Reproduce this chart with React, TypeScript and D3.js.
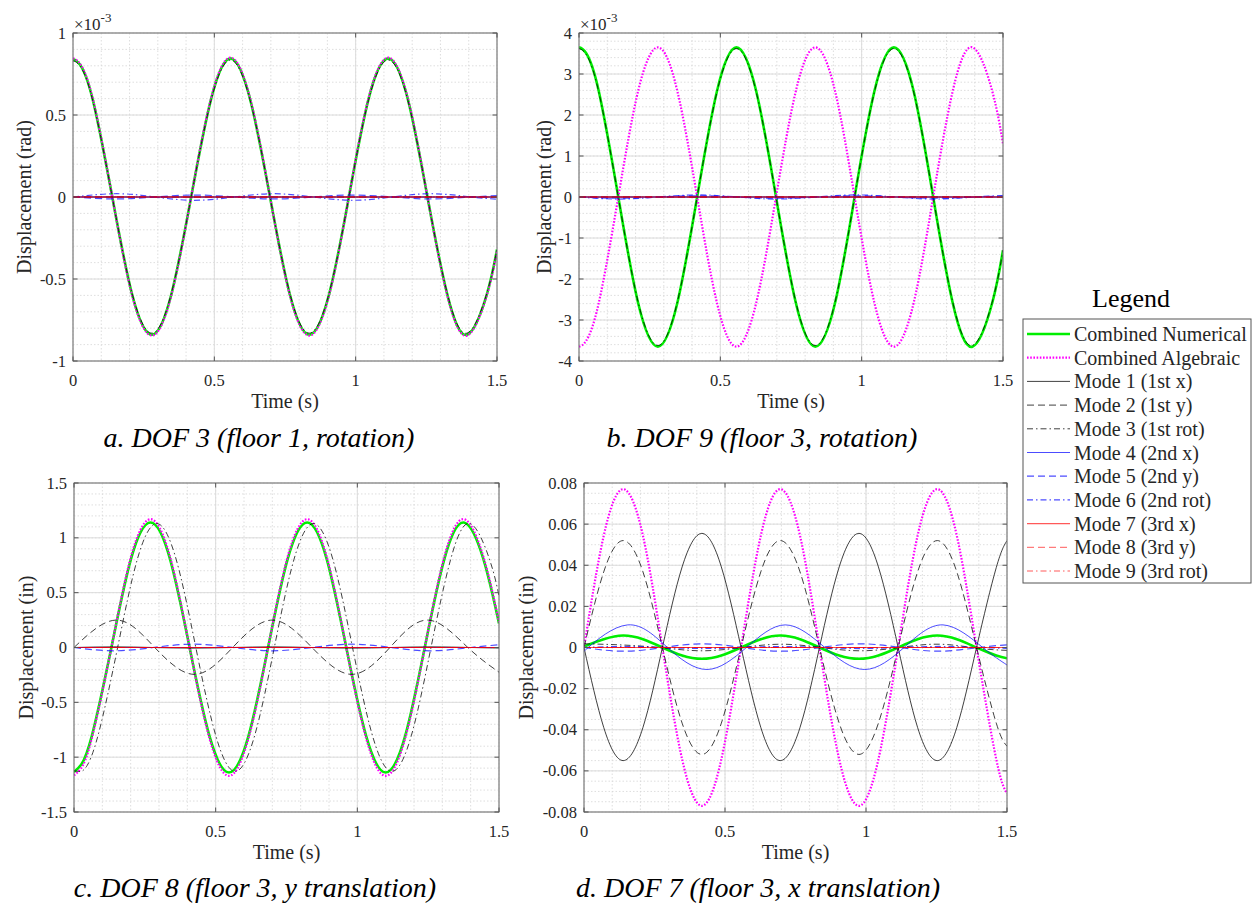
import React from 'react';
import * as d3 from 'd3';

type Pt = [number, number];

// ---------- shared ----------
const timeTicks = [0, 0.5, 1, 1.5];
const legendLabels = [
  'Combined Numerical',
  'Combined Algebraic',
  'Mode 1 (1st x)',
  'Mode 2 (1st y)',
  'Mode 3 (1st rot)',
  'Mode 4 (2nd x)',
  'Mode 5 (2nd y)',
  'Mode 6 (2nd rot)',
  'Mode 7 (3rd x)',
  'Mode 8 (3rd y)',
  'Mode 9 (3rd rot)',
];
const flatTime = [0, 1.5];
const flatValues = [0, 0];

// ---------- panel a: DOF 3 (x 10^-3 rad) ----------
const aTicks = [-1, -0.5, 0, 0.5, 1];
const aTime = [0, 0.025, 0.07, 0.139, 0.209, 0.279, 0.348, 0.418, 0.488, 0.557, 0.627, 0.697, 0.767, 0.836, 0.906, 0.976, 1.045, 1.115, 1.185, 1.254, 1.324, 1.394, 1.464, 1.5];
const aNumerical = [0.84, 0.807, 0.594, 0, -0.594, -0.84, -0.594, 0, 0.594, 0.845, 0.594, 0, -0.594, -0.84, -0.594, 0, 0.594, 0.845, 0.594, 0, -0.594, -0.84, -0.594, -0.32];
const aAlgebraic = [0.845, 0.812, 0.598, 0, -0.598, -0.845, -0.598, 0, 0.598, 0.85, 0.598, 0, -0.598, -0.845, -0.598, 0, 0.598, 0.85, 0.598, 0, -0.598, -0.845, -0.598, -0.325];
const aMode3 = [0.83, 0.798, 0.587, 0, -0.587, -0.83, -0.587, 0, 0.587, 0.835, 0.587, 0, -0.587, -0.83, -0.587, 0, 0.587, 0.835, 0.587, 0, -0.587, -0.83, -0.587, -0.315];
const aSmallTime = [0, 0.155, 0.29, 0.43, 0.57, 0.71, 0.85, 0.99, 1.13, 1.27, 1.41, 1.5];
const aMode5 = [0, -0.012, 0, 0.012, 0, -0.012, 0, 0.012, 0, -0.012, 0, 0.008];
const aMode6 = [0, 0.02, 0, -0.02, 0, 0.02, 0, -0.02, 0, 0.02, 0, -0.014];

// ---------- panel b: DOF 9 (x 10^-3 rad) ----------
const bTicks = [-4, -3, -2, -1, 0, 1, 2, 3, 4];
const bTime = [0, 0.025, 0.07, 0.139, 0.209, 0.279, 0.348, 0.418, 0.488, 0.557, 0.627, 0.697, 0.767, 0.836, 0.906, 0.975, 1.045, 1.114, 1.184, 1.253, 1.322, 1.392, 1.462, 1.5];
const bNumerical = [3.65, 3.51, 2.58, 0, -2.58, -3.65, -2.58, 0, 2.58, 3.65, 2.58, 0, -2.58, -3.65, -2.58, 0, 2.58, 3.65, 2.58, 0, -2.58, -3.65, -2.58, -1.3];
const bAlgebraic = [-3.65, -3.51, -2.58, 0, 2.58, 3.65, 2.58, 0, -2.58, -3.65, -2.58, 0, 2.58, 3.65, 2.58, 0, -2.58, -3.65, -2.58, 0, 2.58, 3.65, 2.58, 1.3];
const bMode3 = [3.62, 3.48, 2.56, 0, -2.56, -3.62, -2.56, 0, 2.56, 3.62, 2.56, 0, -2.56, -3.62, -2.56, 0, 2.56, 3.62, 2.56, 0, -2.56, -3.62, -2.56, -1.29];
const bSmallTime = [0, 0.14, 0.28, 0.42, 0.56, 0.7, 0.84, 0.98, 1.12, 1.26, 1.4, 1.5];
const bMode5 = [0, -0.03, 0, 0.03, 0, -0.03, 0, 0.03, 0, -0.03, 0, 0.022];
const bMode6 = [0, -0.05, 0, 0.05, 0, -0.05, 0, 0.05, 0, -0.05, 0, 0.036];

// ---------- panel c: DOF 8 (in) ----------
const cTicks = [-1.5, -1, -0.5, 0, 0.5, 1, 1.5];
const cTime = [0, 0.025, 0.063, 0.132, 0.201, 0.27, 0.339, 0.408, 0.478, 0.547, 0.616, 0.685, 0.754, 0.823, 0.892, 0.961, 1.031, 1.1, 1.169, 1.238, 1.307, 1.376, 1.445, 1.5];
const cNumerical = [-1.135, -1.07, -0.806, 0, 0.806, 1.14, 0.806, 0, -0.806, -1.14, -0.806, 0, 0.806, 1.14, 0.806, 0, -0.806, -1.14, -0.806, 0, 0.806, 1.14, 0.806, 0.22];
const cAlgebraic = [-1.165, -1.1, -0.827, 0, 0.827, 1.17, 0.827, 0, -0.827, -1.17, -0.827, 0, 0.827, 1.17, 0.827, 0, -0.827, -1.17, -0.827, 0, 0.827, 1.17, 0.827, 0.23];
const cMode3Time = [0, 0.016, 0.04, 0.085, 0.154, 0.223, 0.292, 0.361, 0.43, 0.5, 0.569, 0.638, 0.707, 0.776, 0.845, 0.914, 0.983, 1.053, 1.122, 1.191, 1.26, 1.329, 1.398, 1.467, 1.5];
const cMode3 = [-1.125, -1.13, -1.1, -0.8, 0, 0.8, 1.13, 0.8, 0, -0.8, -1.13, -0.8, 0, 0.8, 1.13, 0.8, 0, -0.8, -1.13, -0.8, 0, 0.8, 1.13, 0.8, 0.47];
const cMode2Time = [0, 0.15, 0.285, 0.425, 0.56, 0.7, 0.84, 0.98, 1.115, 1.25, 1.39, 1.5];
const cMode2 = [0, 0.25, 0, -0.245, 0, 0.25, 0, -0.245, 0, 0.25, 0, -0.225];
const cSmallTime = [0, 0.14, 0.28, 0.42, 0.56, 0.7, 0.84, 0.98, 1.12, 1.26, 1.4, 1.5];
const cMode1 = [0, 0.006, 0, -0.006, 0, 0.006, 0, -0.006, 0, 0.006, 0, -0.005];
const cMode5 = [0, -0.03, 0, 0.03, 0, -0.03, 0, 0.03, 0, -0.03, 0, 0.025];

// ---------- panel d: DOF 7 (in) ----------
const dTicks = [-0.08, -0.06, -0.04, -0.02, 0, 0.02, 0.04, 0.06, 0.08];
const dTime = [0, 0.07, 0.139, 0.209, 0.278, 0.348, 0.418, 0.487, 0.557, 0.627, 0.696, 0.766, 0.835, 0.905, 0.975, 1.044, 1.114, 1.183, 1.253, 1.322, 1.392, 1.462, 1.5];
const dNumerical = [0.0005, 0.004, 0.0058, 0.004, 0, -0.0039, -0.0055, -0.0039, 0, 0.004, 0.0058, 0.004, 0, -0.0039, -0.0055, -0.0039, 0, 0.004, 0.0058, 0.004, 0, -0.0039, -0.0052];
const dAlgebraic = [0, 0.0544, 0.077, 0.0544, 0, -0.0544, -0.077, -0.0544, 0, 0.0544, 0.077, 0.0544, 0, -0.0544, -0.077, -0.0544, 0, 0.0544, 0.077, 0.0544, 0, -0.0544, -0.071];
const dMode1 = [0, -0.0389, -0.055, -0.0389, 0, 0.0392, 0.0555, 0.0392, 0, -0.0389, -0.055, -0.0389, 0, 0.0392, 0.0555, 0.0392, 0, -0.0389, -0.055, -0.0389, 0, 0.0389, 0.052];
const dMode2 = [0, 0.0368, 0.052, 0.0368, 0, -0.0368, -0.052, -0.0368, 0, 0.0368, 0.052, 0.0368, 0, -0.0368, -0.052, -0.0368, 0, 0.0368, 0.052, 0.0368, 0, -0.0368, -0.048];
const dMode4Time = [0, 0.015, 0.155, 0.296, 0.436, 0.576, 0.714, 0.854, 0.995, 1.135, 1.273, 1.414, 1.5];
const dMode4 = [-0.0022, 0, 0.011, 0, -0.0107, 0, 0.011, 0, -0.0107, 0, 0.011, 0, -0.0085];
const dSmallTime = [0, 0.14, 0.28, 0.42, 0.56, 0.7, 0.84, 0.98, 1.12, 1.26, 1.4, 1.5];
const dMode3 = [0.0018, 0.0012, -0.0002, -0.0016, 0, 0.0016, 0, -0.0016, 0, 0.0016, -0.0004, -0.0014];
const dMode5 = [0, -0.0018, 0, 0.0018, 0, -0.0018, 0, 0.0018, 0, -0.0018, 0, 0.0013];
const dMode6 = [0, 0.0005, 0, -0.0005, 0, 0.0005, 0, -0.0005, 0, 0.0005, 0, -0.0004];

// ---------- styles ----------
type Style = { color: string; width: number; dash?: string; opacity: number };
const seriesStyles: Style[] = [
  { color: '#00ee00', width: 2.6, opacity: 1 },
  { color: '#ff00ff', width: 2.2, dash: '1.6,1.6', opacity: 1 },
  { color: '#000000', width: 1, opacity: 0.75 },
  { color: '#000000', width: 1, dash: '7,4', opacity: 0.75 },
  { color: '#000000', width: 1, dash: '6,3,1.5,3', opacity: 0.75 },
  { color: '#0000ff', width: 1, opacity: 0.7 },
  { color: '#0000ff', width: 1.2, dash: '7,4', opacity: 0.7 },
  { color: '#0000ff', width: 1.2, dash: '6,3,1.5,3', opacity: 0.7 },
  { color: '#ff0000', width: 1.2, opacity: 0.65 },
  { color: '#ff0000', width: 1, dash: '7,4', opacity: 0.65 },
  { color: '#ff0000', width: 1, dash: '6,3,1.5,3', opacity: 0.65 },
];

const FONT = '"Liberation Serif", "Times New Roman", serif';
const TXT = '#262626';

type Box = { l: number; r: number; t: number; b: number };

function zip(t: number[], v: number[]): Pt[] {
  return t.map((ti, i) => [ti, v[i]] as Pt);
}

function fmt(v: number) {
  const r = Math.round(v * 10000) / 10000;
  return String(r === 0 ? 0 : r);
}

function Panel(props: {
  id: string;
  box: Box;
  yTicks: number[];
  yMinor: number;
  yLabel: string;
  yLabelX: number;
  exponent?: boolean;
  series: Pt[][];
  caption: string;
  captionX: number;
  captionY: number;
}) {
  const { id, box, yTicks, yMinor, yLabel, yLabelX, exponent, series, caption, captionX, captionY } = props;
  const yDom: [number, number] = [yTicks[0], yTicks[yTicks.length - 1]];
  const x = d3.scaleLinear().domain([0, 1.5]).range([box.l, box.r]);
  const y = d3.scaleLinear().domain(yDom).range([box.b, box.t]);
  const xMinor = d3.range(0, 1.5 + 1e-9, 0.1);
  const n = Math.round((yDom[1] - yDom[0]) / yMinor);
  const yMinorTicks = d3.range(0, n + 1).map((i) => yDom[0] + i * yMinor);
  const line = d3
    .line<Pt>()
    .x((d) => x(d[0]))
    .y((d) => y(d[1]))
    .curve(d3.curveNatural);
  const tickLen = 4.5;
  return (
    <g>
      <defs>
        <clipPath id={`clip-${id}`}>
          <rect x={box.l} y={box.t} width={box.r - box.l} height={box.b - box.t} />
        </clipPath>
      </defs>
      <rect x={box.l} y={box.t} width={box.r - box.l} height={box.b - box.t} fill="#fff" />
      {xMinor.map((v, i) => (
        <line key={`xm${i}`} x1={x(v)} x2={x(v)} y1={box.t} y2={box.b} stroke="#d6d6d6" strokeWidth={0.8} strokeDasharray="1.5,2" />
      ))}
      {yMinorTicks.map((v, i) => (
        <line key={`ym${i}`} x1={box.l} x2={box.r} y1={y(v)} y2={y(v)} stroke="#d6d6d6" strokeWidth={0.8} strokeDasharray="1.5,2" />
      ))}
      {timeTicks.map((v, i) => (
        <line key={`xg${i}`} x1={x(v)} x2={x(v)} y1={box.t} y2={box.b} stroke="#dcdcdc" strokeWidth={1} />
      ))}
      {yTicks.map((v, i) => (
        <line key={`yg${i}`} x1={box.l} x2={box.r} y1={y(v)} y2={y(v)} stroke="#dcdcdc" strokeWidth={1} />
      ))}
      <g clipPath={`url(#clip-${id})`}>
        {series.map((s, i) => {
          const st = seriesStyles[i];
          return (
            <path
              key={`s${i}`}
              d={line(s) || ''}
              fill="none"
              stroke={st.color}
              strokeWidth={st.width}
              strokeDasharray={st.dash}
              strokeOpacity={st.opacity}
            />
          );
        })}
      </g>
      <rect x={box.l} y={box.t} width={box.r - box.l} height={box.b - box.t} fill="none" stroke="#6e6e6e" strokeWidth={1} />
      {timeTicks.map((v, i) => (
        <g key={`xt${i}`}>
          <line x1={x(v)} x2={x(v)} y1={box.b} y2={box.b - tickLen} stroke="#555" />
          <line x1={x(v)} x2={x(v)} y1={box.t} y2={box.t + tickLen} stroke="#555" />
          <text x={x(v)} y={box.b + 25} textAnchor="middle" fontFamily={FONT} fontSize={16.5} fill={TXT}>
            {fmt(v)}
          </text>
        </g>
      ))}
      {yTicks.map((v, i) => (
        <g key={`yt${i}`}>
          <line x1={box.l} x2={box.l + tickLen} y1={y(v)} y2={y(v)} stroke="#555" />
          <line x1={box.r} x2={box.r - tickLen} y1={y(v)} y2={y(v)} stroke="#555" />
          <text x={box.l - 7} y={y(v) + 5.5} textAnchor="end" fontFamily={FONT} fontSize={16.5} fill={TXT}>
            {fmt(v)}
          </text>
        </g>
      ))}
      {exponent && (
        <text x={box.l + 1} y={box.t - 3} fontFamily={FONT} fontSize={17} fill={TXT}>
          ×10
          <tspan dy={-8} fontSize={13}>
            -3
          </tspan>
        </text>
      )}
      <text x={(box.l + box.r) / 2} y={box.b + 47} textAnchor="middle" fontFamily={FONT} fontSize={20} fill={TXT}>
        Time (s)
      </text>
      <text
        transform={`translate(${yLabelX},${(box.t + box.b) / 2}) rotate(-90)`}
        textAnchor="middle"
        fontFamily={FONT}
        fontSize={20}
        fill={TXT}
      >
        {yLabel}
      </text>
      <text x={captionX} y={captionY} textAnchor="middle" fontFamily={FONT} fontStyle="italic" fontSize={28} fill="#000">
        {caption}
      </text>
    </g>
  );
}

function Legend() {
  const left = 1023;
  const top = 319;
  const w = 228;
  const h = 264;
  const firstBase = 341;
  const step = 23.7;
  return (
    <g>
      <text x={1131} y={307} textAnchor="middle" fontFamily={FONT} fontSize={26} fill="#000">
        Legend
      </text>
      <rect x={left} y={top} width={w} height={h} fill="#fff" stroke="#555" strokeWidth={1} />
      {legendLabels.map((lab, i) => {
        const st = seriesStyles[i];
        const by = firstBase + i * step;
        return (
          <g key={lab}>
            <line
              x1={1027}
              x2={1070}
              y1={by - 7}
              y2={by - 7}
              stroke={st.color}
              strokeWidth={st.width}
              strokeDasharray={st.dash}
              strokeOpacity={st.opacity}
            />
            <text x={1074} y={by} fontFamily={FONT} fontSize={20} fill={TXT}>
              {lab}
            </text>
          </g>
        );
      })}
    </g>
  );
}

export default function App() {
  const flat = zip(flatTime, flatValues);
  const aSeries = [
    zip(aTime, aNumerical), zip(aTime, aAlgebraic), flat, flat, zip(aTime, aMode3), flat,
    zip(aSmallTime, aMode5), zip(aSmallTime, aMode6), flat, flat, flat,
  ];
  const bSeries = [
    zip(bTime, bNumerical), zip(bTime, bAlgebraic), flat, flat, zip(bTime, bMode3), flat,
    zip(bSmallTime, bMode5), zip(bSmallTime, bMode6), flat, flat, flat,
  ];
  const cSeries = [
    zip(cTime, cNumerical), zip(cTime, cAlgebraic), zip(cSmallTime, cMode1), zip(cMode2Time, cMode2),
    zip(cMode3Time, cMode3), flat, zip(cSmallTime, cMode5), flat, flat, flat, flat,
  ];
  const dSeries = [
    zip(dTime, dNumerical), zip(dTime, dAlgebraic), zip(dTime, dMode1), zip(dTime, dMode2),
    zip(dSmallTime, dMode3), zip(dMode4Time, dMode4), zip(dSmallTime, dMode5), zip(dSmallTime, dMode6),
    flat, flat, flat,
  ];
  return (
    <svg
      width={1254}
      height={905}
      style={{ position: 'absolute', left: 0, top: 0, background: '#fff' }}
      xmlns="http://www.w3.org/2000/svg"
    >
      <rect x={0} y={0} width={1254} height={905} fill="#fff" />
      <Panel
        id="a"
        box={{ l: 73, r: 497, t: 33, b: 361 }}
        yTicks={aTicks}
        yMinor={0.1}
        yLabel="Displacement (rad)"
        yLabelX={31}
        exponent
        series={aSeries}
        caption="a. DOF 3 (floor 1, rotation)"
        captionX={259}
        captionY={447}
      />
      <Panel
        id="b"
        box={{ l: 579, r: 1003, t: 33, b: 361 }}
        yTicks={bTicks}
        yMinor={0.2}
        yLabel="Displacement (rad)"
        yLabelX={551}
        exponent
        series={bSeries}
        caption="b. DOF 9 (floor 3, rotation)"
        captionX={762}
        captionY={447}
      />
      <Panel
        id="c"
        box={{ l: 74, r: 499, t: 483, b: 812 }}
        yTicks={cTicks}
        yMinor={0.1}
        yLabel="Displacement (in)"
        yLabelX={33}
        series={cSeries}
        caption="c. DOF 8 (floor 3, y translation)"
        captionX={255}
        captionY={897}
      />
      <Panel
        id="d"
        box={{ l: 584, r: 1007, t: 483, b: 812 }}
        yTicks={dTicks}
        yMinor={0.005}
        yLabel="Displacement (in)"
        yLabelX={533}
        series={dSeries}
        caption="d. DOF 7 (floor 3, x translation)"
        captionX={758}
        captionY={897}
      />
      <Legend />
    </svg>
  );
}
